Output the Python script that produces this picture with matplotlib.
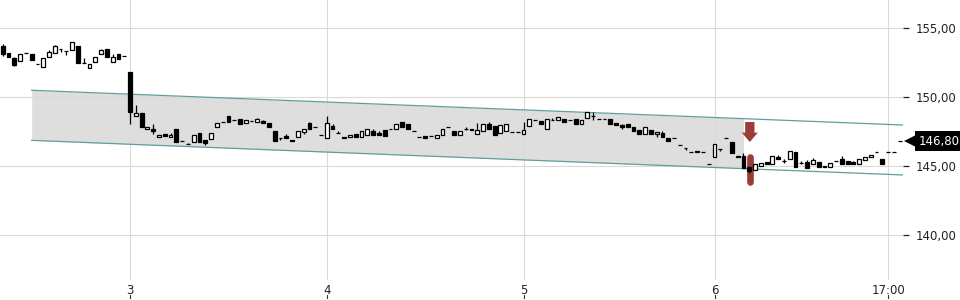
import numpy as np
import matplotlib
matplotlib.use("Agg")
import matplotlib.pyplot as plt
import matplotlib.transforms as mtransforms
from matplotlib.patches import FancyArrow

# candles de 15 minutos (open, high, low, close)
opens = [153.72, 153.19, 152.87, 152.63, 153.19, 153.14, 152.43, 152.17, 152.90, 153.19,
         153.48, 153.38, 153.43, 153.72, 152.45, 152.10, 152.58, 153.12, 153.48, 152.58,
         153.14, 152.99, 151.81, 148.67, 148.84, 147.68, 147.70, 147.10, 147.32, 147.10,
         147.70, 146.83, 146.59, 146.78, 147.39, 146.88, 147.00, 147.83, 148.19, 148.62,
         148.36, 148.45, 148.12, 148.26, 148.23, 148.26, 148.12, 147.56, 147.05, 147.20,
         146.88, 147.10, 147.46, 148.16, 147.87, 147.27, 147.03, 147.92, 147.39, 147.15,
         147.10, 147.32, 147.15, 147.27, 147.58, 147.42, 147.61, 147.68, 147.68, 148.21,
         148.04, 147.54, 147.12, 147.17, 147.17, 147.07, 147.25, 147.85, 147.56, 147.29,
         147.73, 147.73, 147.36, 147.56, 148.04, 147.92, 147.44, 147.56, 147.52, 147.52,
         147.32, 147.94, 148.33, 148.25, 147.68, 148.38, 148.36, 148.41, 148.33, 148.41,
         148.09, 148.48, 148.65, 148.45, 148.45, 148.41, 148.17, 147.99, 148.04, 147.83,
         147.63, 147.32, 147.63, 147.36, 147.39, 147.07, 147.07, 146.57, 146.30, 146.04,
         146.09, 146.04, 145.17, 145.65, 146.25, 147.07, 146.74, 145.75, 145.77, 144.97,
         144.73, 145.04, 145.31, 145.15, 145.70, 145.41, 145.51, 146.01, 145.26, 145.31,
         145.17, 145.31, 145.04, 144.97, 145.41, 145.53, 145.41, 145.29, 145.17, 145.46,
         145.65, 146.06, 145.53, 146.00, 146.01, 146.80]
closes = [153.14, 152.94, 152.34, 153.14, 153.19, 152.70, 152.43, 152.83, 153.30, 153.74,
          153.48, 153.38, 153.99, 152.46, 152.45, 152.41, 152.94, 153.43, 152.90, 152.94,
          152.80, 152.99, 148.96, 148.84, 147.87, 147.85, 147.56, 147.25, 147.20, 147.27,
          146.74, 146.83, 146.59, 147.25, 146.78, 146.67, 147.39, 148.12, 148.19, 148.19,
          148.36, 148.04, 148.36, 148.26, 148.43, 148.12, 147.83, 146.86, 147.05, 147.03,
          146.81, 147.54, 147.68, 147.68, 147.87, 147.27, 148.12, 147.68, 147.39, 147.07,
          147.29, 147.12, 147.54, 147.68, 147.25, 147.29, 147.20, 147.68, 148.04, 147.85,
          147.68, 147.54, 147.12, 147.05, 147.17, 147.29, 147.68, 147.85, 147.29, 147.54,
          147.73, 147.65, 147.61, 148.04, 147.68, 147.29, 148.00, 148.03, 147.52, 147.52,
          147.63, 148.41, 148.33, 148.05, 148.41, 148.38, 148.55, 148.21, 148.33, 148.03,
          148.36, 148.94, 148.65, 148.45, 148.45, 148.05, 147.96, 147.83, 147.85, 147.58,
          147.36, 147.83, 147.32, 147.51, 147.10, 146.83, 147.07, 146.57, 146.30, 146.04,
          146.01, 146.04, 145.17, 146.59, 146.25, 147.07, 145.94, 145.65, 144.86, 144.68,
          145.17, 145.22, 145.15, 145.75, 145.53, 145.41, 146.11, 144.97, 145.26, 144.86,
          145.46, 144.93, 144.93, 145.26, 145.41, 145.17, 145.17, 145.17, 145.53, 145.70,
          145.82, 146.06, 145.17, 146.00, 146.01, 146.80]
highs = [153.86, 153.19, 152.90, 153.14, 153.19, 153.14, 152.43, 152.83, 153.43, 153.81,
         153.48, 153.38, 153.99, 153.72, 152.85, 152.41, 152.94, 153.52, 153.48, 153.14,
         153.14, 152.99, 151.81, 149.42, 148.84, 147.85, 148.04, 147.25, 147.32, 147.44,
         147.70, 146.83, 146.70, 147.25, 147.39, 146.88, 147.39, 148.12, 148.19, 148.62,
         148.36, 148.45, 148.36, 148.26, 148.50, 148.36, 148.12, 147.56, 147.05, 147.32,
         146.88, 147.54, 147.68, 148.23, 147.87, 147.27, 148.65, 148.07, 147.56, 147.15,
         147.29, 147.32, 147.54, 147.68, 147.68, 147.56, 147.61, 147.68, 148.04, 148.21,
         148.04, 147.54, 147.12, 147.17, 147.17, 147.29, 147.68, 147.85, 147.56, 147.54,
         147.85, 147.73, 148.16, 148.04, 148.21, 147.92, 148.00, 148.03, 147.52, 147.52,
         148.23, 148.41, 148.33, 148.25, 148.41, 148.50, 148.55, 148.41, 148.33, 148.41,
         148.36, 148.94, 148.95, 148.45, 148.45, 148.41, 148.17, 148.10, 148.04, 147.83,
         147.63, 147.83, 147.63, 147.51, 147.56, 147.07, 147.07, 146.57, 146.30, 146.04,
         146.09, 146.04, 145.17, 146.59, 146.25, 147.07, 146.74, 145.75, 145.94, 144.97,
         145.17, 145.22, 145.31, 145.75, 145.80, 145.55, 146.11, 146.01, 145.35, 145.46,
         145.58, 145.31, 145.04, 145.26, 145.41, 145.75, 145.41, 145.41, 145.53, 145.70,
         145.82, 146.06, 145.53, 146.00, 146.01, 146.80]
lows = [152.99, 152.94, 152.30, 152.63, 153.19, 152.70, 152.43, 152.17, 152.90, 153.19,
        153.30, 153.07, 153.43, 152.46, 152.45, 152.10, 152.58, 153.12, 152.90, 152.58,
        152.80, 152.99, 148.07, 148.67, 147.87, 147.68, 147.34, 147.10, 147.20, 147.10,
        146.74, 146.83, 146.59, 146.78, 146.78, 146.54, 147.00, 147.83, 148.19, 148.19,
        148.36, 148.04, 148.12, 148.26, 148.23, 148.12, 147.83, 146.86, 146.93, 147.03,
        146.81, 147.10, 147.34, 147.68, 147.87, 147.27, 147.03, 147.68, 147.39, 147.07,
        147.10, 147.12, 147.15, 147.27, 147.25, 147.29, 147.20, 147.68, 147.68, 147.85,
        147.68, 147.54, 147.12, 147.05, 147.17, 147.07, 147.25, 147.85, 147.29, 147.29,
        147.61, 147.65, 147.36, 147.56, 147.68, 147.29, 147.44, 147.56, 147.52, 147.52,
        147.32, 147.94, 148.33, 148.05, 147.68, 148.38, 148.36, 148.21, 148.33, 148.03,
        148.09, 148.48, 148.36, 148.45, 148.45, 148.05, 147.96, 147.70, 147.85, 147.58,
        147.36, 147.32, 147.32, 147.10, 147.10, 146.83, 147.07, 146.57, 146.20, 146.04,
        146.01, 146.04, 145.17, 145.65, 146.10, 147.07, 145.94, 145.65, 144.86, 144.49,
        144.73, 145.04, 145.15, 145.15, 145.53, 145.25, 145.51, 144.97, 145.15, 144.86,
        145.17, 144.93, 144.93, 144.97, 145.41, 145.17, 145.17, 145.17, 145.17, 145.46,
        145.65, 146.06, 145.17, 146.00, 146.01, 146.80]

tick_pos = [22, 56, 90, 123, 153]
tick_labels = ["3", "4", "5", "6", "17:00"]
price_ticks = [140, 145, 150, 155]

# canal de tendencia
channel_x = [5, 155.6]
channel_top = [150.51, 147.99]
channel_bottom = [146.88, 144.37]
channel_fill_end = 128

# sinal de venda
signal_bar = 129.1
arrow_top = 148.21
arrow_tip = 146.76
marker_top = 145.65
marker_bottom = 143.88

last_price = 146.80

RED = "#9b3c37"


def fmt_price(v):
    return "{:.2f}".format(v).replace(".", ",")


def main():
    fig = plt.figure(figsize=(9.6, 3.0), dpi=100)
    ax = fig.add_axes([0, 20 / 300, 903 / 960, 280 / 300])

    x = np.arange(len(opens))
    o = np.array(opens)
    c = np.array(closes)

    # canal
    ax.plot(channel_x, channel_top, color="#5f9ea0", lw=0.9, zorder=2)
    ax.plot(channel_x, channel_bottom, color="#5f9ea0", lw=0.9, zorder=2)
    fx = np.array([channel_x[0], channel_fill_end])
    ax.fill_between(fx, np.interp(fx, channel_x, channel_bottom),
                    np.interp(fx, channel_x, channel_top),
                    color="#dedede", lw=0, zorder=0.2)

    # barra vermelha atras do candle
    ax.plot([signal_bar, signal_bar], [marker_top, marker_bottom], color=RED,
            lw=4.8, solid_capstyle="round", zorder=2.5)
    ax.add_patch(FancyArrow(signal_bar, arrow_top, 0, arrow_tip - arrow_top,
                            width=1.6, head_width=2.76, head_length=0.68,
                            length_includes_head=True, color=RED, lw=0, zorder=3))

    # candles
    ax.vlines(x, lows, highs, color="black", lw=0.9, zorder=3)
    up = c >= o
    ax.bar(x, np.abs(c - o), bottom=np.minimum(o, c), width=0.66,
           color=np.where(up, "white", "black"), edgecolor="black",
           linewidth=0.9, zorder=4)

    ax.set_xlim(-0.47, 155.57)
    ax.set_ylim(136.76, 157.05)

    ax.set_axisbelow(True)
    ax.grid(True, color="#dadada", lw=0.8)
    for s in ax.spines.values():
        s.set_visible(False)

    ax.yaxis.tick_right()
    ax.set_yticks(price_ticks)
    ax.set_yticklabels([fmt_price(v) for v in price_ticks])
    ax.tick_params(axis="y", length=4, width=0.9, pad=5, labelsize=8.5,
                   colors="#222222")

    ax.set_xticks(tick_pos)
    ax.set_xticklabels(tick_labels)
    ax.tick_params(axis="x", length=0, pad=3, labelsize=8.5, colors="#222222")

    # pequenos tracos abaixo dos rotulos do eixo x
    tr = mtransforms.blended_transform_factory(ax.transData, ax.transAxes)
    for p in tick_pos:
        ax.plot([p, p], [-0.053, -0.064], color="#333333", lw=0.8,
                transform=tr, clip_on=False)

    # rotulo do ultimo preco
    tr2 = mtransforms.blended_transform_factory(ax.transAxes, ax.transData)
    ax.plot(1.009, last_price, marker="<", ms=10, color="black", mew=0,
            transform=tr2, clip_on=False)
    ax.text(1.017, last_price, fmt_price(last_price), transform=tr2,
            ha="left", va="center", color="white", fontsize=8.5,
            bbox=dict(boxstyle="square,pad=0.3", fc="black", ec="none"))

    fig.savefig("out.png", dpi=100)


if __name__ == "__main__":
    main()
